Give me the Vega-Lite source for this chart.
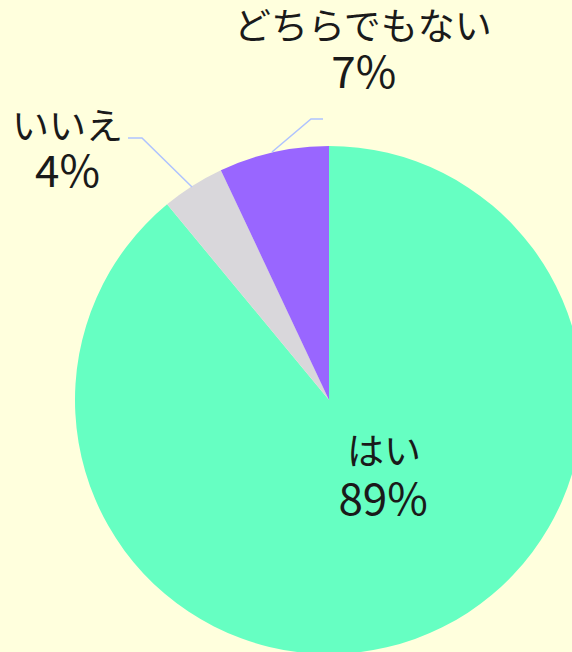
{
  "$schema": "https://vega.github.io/schema/vega-lite/v6.json",
  "width": 508,
  "height": 508,
  "autosize": {"type": "none"},
  "padding": {"left": 75, "top": 146, "right": -11, "bottom": -2},
  "background": "#FFFFDD",
  "config": {"view": {"stroke": null}, "text": {"font": "Noto Sans CJK JP", "color": "#1a1a1a"}},
  "data": {"values": [
    {"answer": "はい", "share": 0.89, "rank": 1},
    {"answer": "いいえ", "share": 0.04, "rank": 2},
    {"answer": "どちらでもない", "share": 0.07, "rank": 3}
  ]},
  "layer": [
    {
      "encoding": {
        "theta": {"field": "share", "type": "quantitative", "stack": true},
        "order": {"field": "rank", "type": "quantitative"},
        "detail": {"field": "answer", "type": "nominal"}
      },
      "layer": [
        {
          "mark": {"type": "arc"},
          "encoding": {
            "color": {"field": "answer", "type": "nominal", "legend": null,
              "scale": {"domain": ["はい", "いいえ", "どちらでもない"], "range": ["#66FFC2", "#D9D7DB", "#9966FF"]}}
          }
        },
        {
          "mark": {"type": "text", "radius": 80, "dx": 28, "dy": -21, "fontSize": 37},
          "encoding": {"text": {"condition": {"test": "datum.answer === 'はい'", "field": "answer", "type": "nominal"}, "value": ""}}
        },
        {
          "mark": {"type": "text", "radius": 80, "dx": 27, "dy": 27, "fontSize": 44},
          "encoding": {"text": {"condition": {"test": "datum.answer === 'はい'", "field": "share", "type": "quantitative", "format": ".0%"}, "value": ""}}
        },
        {
          "mark": {"type": "text", "radius": 320, "dx": -90, "dy": -1, "fontSize": 37},
          "encoding": {"text": {"condition": {"test": "datum.answer === 'いいえ'", "field": "answer", "type": "nominal"}, "value": ""}}
        },
        {
          "mark": {"type": "text", "radius": 320, "dx": -90, "dy": 44, "fontSize": 44},
          "encoding": {"text": {"condition": {"test": "datum.answer === 'いいえ'", "field": "share", "type": "quantitative", "format": ".0%"}, "value": ""}}
        },
        {
          "mark": {"type": "text", "radius": 340, "dx": 108, "dy": -39, "fontSize": 37},
          "encoding": {"text": {"condition": {"test": "datum.answer === 'どちらでもない'", "field": "answer", "type": "nominal"}, "value": ""}}
        },
        {
          "mark": {"type": "text", "radius": 340, "dx": 109, "dy": 7, "fontSize": 44},
          "encoding": {"text": {"condition": {"test": "datum.answer === 'どちらでもない'", "field": "share", "type": "quantitative", "format": ".0%"}, "value": ""}}
        }
      ]
    },
    {
      "transform": [{"filter": "datum.answer !== 'はい'"}],
      "mark": {"type": "point", "filled": false, "size": 4, "opacity": 1, "stroke": "#AFC3FF", "strokeWidth": 1.5},
      "encoding": {
        "shape": {"field": "answer", "type": "nominal", "legend": null,
          "scale": {"domain": ["いいえ", "どちらでもない"], "range": ["M-201,-262L-187,-262L-137,-213", "M-6,-281L-18,-281L-57,-248"]}}
      }
    }
  ]
}
